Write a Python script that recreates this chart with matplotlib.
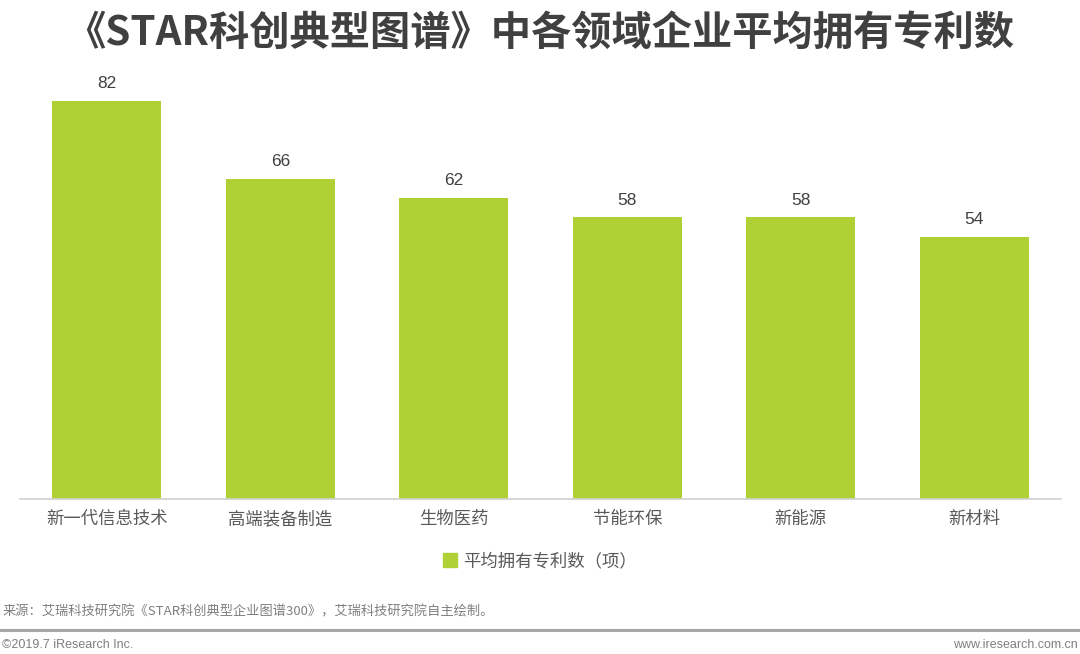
import matplotlib.pyplot as plt
from matplotlib.patches import Patch
from matplotlib.lines import Line2D

plt.rcParams['font.family'] = ['Noto Sans CJK SC', 'DejaVu Sans']

categories = ['新一代信息技术', '高端装备制造', '生物医药', '节能环保', '新能源', '新材料']
values = [82, 66, 62, 58, 58, 54]
series_name = '平均拥有专利数（项）'
title = '《STAR科创典型图谱》中各领域企业平均拥有专利数'
source = '来源：艾瑞科技研究院《STAR科创典型企业图谱300》，艾瑞科技研究院自主绘制。'

bar_color = '#B0D136'

fig = plt.figure(figsize=(10.8, 6.54), dpi=100)
ax = fig.add_axes([0.0185, 0.237, 0.964, 0.668])

x = range(len(categories))
bars = ax.bar(x, values, width=0.63, color=bar_color)
for xi, v in zip(x, values):
    ax.text(xi, v + 2.0, str(v), ha='center', va='bottom', fontsize=12.5,
            color='#404040', family='Liberation Sans')

ax.set_xlim(-0.5, len(categories) - 0.5)
ax.set_ylim(0, 90)
ax.set_xticks(list(x))
ax.set_xticklabels(categories, fontsize=12.5, color='#595959')
ax.tick_params(axis='x', length=0, pad=8)
ax.set_yticks([])
for s in ['top', 'right', 'left']:
    ax.spines[s].set_visible(False)
ax.spines['bottom'].set_color('#D0D0D0')
ax.spines['bottom'].set_linewidth(1.2)

fig.legend(handles=[Patch(color=bar_color, label=series_name)],
           loc='center', bbox_to_anchor=(0.5, 1 - 561 / 654), frameon=False,
           fontsize=12.5, handlelength=0.8, handleheight=0.8, handletextpad=0.4,
           labelcolor='#595959')

fig.text(0.5, 1 - 33 / 654, title, ha='center', va='center', fontsize=29,
         fontweight='bold', color='#404040')
fig.text(0.002, 1 - 612 / 654, source, ha='left', va='center', fontsize=9.5, color='#7F7F7F')
fig.add_artist(Line2D([0, 1], [1 - 630 / 654] * 2, color='#A6A6A6', linewidth=2.2,
                      transform=fig.transFigure))
fig.text(0.002, 1 - 645 / 654, '©2019.7 iResearch Inc.', ha='left', va='center',
         fontsize=9, color='#7F7F7F', family='Liberation Sans')
fig.text(0.998, 1 - 645 / 654, 'www.iresearch.com.cn', ha='right', va='center',
         fontsize=9, color='#7F7F7F', family='Liberation Sans')

fig.savefig('out.png', dpi=100)
